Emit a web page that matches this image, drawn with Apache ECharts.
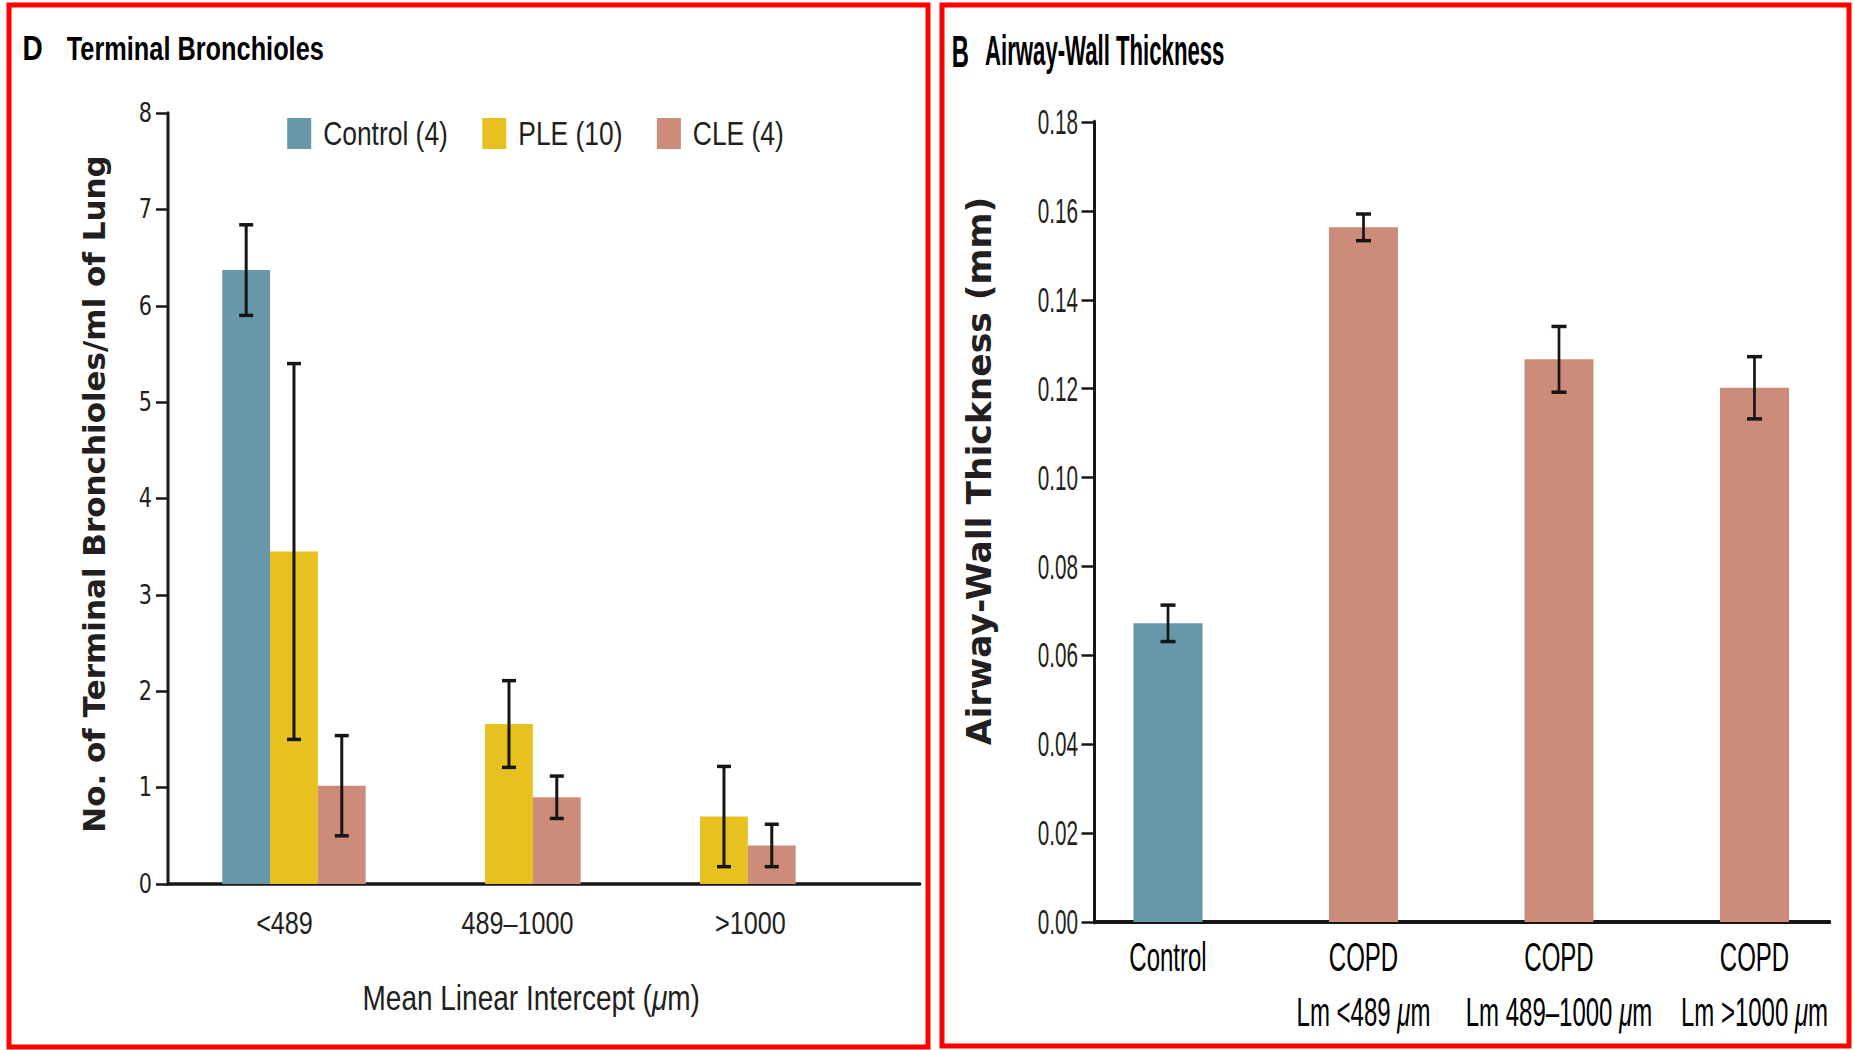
<!DOCTYPE html>
<html>
<head>
<meta charset="utf-8">
<title>Terminal Bronchioles and Airway-Wall Thickness</title>
<script src="https://cdn.jsdelivr.net/npm/echarts@6/dist/echarts.min.js"></script>
<style>
  html, body { margin: 0; padding: 0; background: #fff; overflow: hidden; }
  #frame  { position: absolute; left: 0; top: 0; width: 1854px; height: 1050px; }
  /* the two panels are laid out wide and squeezed horizontally, giving their condensed lettering */
  #panelD { position: absolute; left: 0; top: 0; width: 1169px; height: 1050px;
            transform: scaleX(0.8); transform-origin: 0 0; }
  #panelB { position: absolute; left: 940px; top: 0; width: 1524px; height: 1050px;
            transform: scaleX(0.6); transform-origin: 0 0; }
</style>
</head>
<body>
<div id="frame"></div>
<div id="panelD"></div>
<div id="panelB"></div>
<script>
// ---- Panel D: terminal bronchioles per ml of lung, by mean linear intercept ----
const lmCategories = ['<489', '489\u20131000', '>1000'];
const seriesNames = ['Control (4)', 'PLE (10)', 'CLE (4)'];
const controlMean = [6.37, null, null];
const controlErr  = [0.47, null, null];
const pleMean = [3.45, 1.66, 0.70];
const pleErr  = [1.95, 0.45, 0.52];
const cleMean = [1.02, 0.90, 0.40];
const cleErr  = [0.52, 0.22, 0.22];
const tbAxis = { min: 0, max: 8, interval: 1 };

// ---- Panel B: airway-wall thickness ----
const awtGroups = ['Control', 'COPD\nLm <489 \u03bcm', 'COPD\nLm 489\u20131000 \u03bcm', 'COPD\nLm >1000 \u03bcm'];
const awtMean = [0.0672, 0.1563, 0.1266, 0.1202];
const awtErr  = [0.0041, 0.0030, 0.0074, 0.0070];
const awtAxis = { min: 0, max: 0.18, interval: 0.02 };

const INK = '#161616';
const TEXT = '#231f20';
const BLUE = '#6897a9';
const GOLD = '#e6c11f';
const SALMON = '#cd8c79';
const SANS = "'Liberation Sans', Arial, sans-serif";
const WIDE = "'DejaVu Sans', sans-serif";

function errorData(mean, err) {
  const out = [];
  mean.forEach((m, i) => {
    if (m !== null && m !== undefined) out.push([i, m - err[i], m + err[i]]);
  });
  return out;
}

// whisker with caps, shifted sideways to sit on its bar within a group
function whisker(offsetPx, capW, lw, capLw) {
  return function (params, api) {
    const cat = api.value(0);
    const lo = api.coord([cat, api.value(1)]);
    const hi = api.coord([cat, api.value(2)]);
    const x = lo[0] + offsetPx;
    const st = { stroke: INK, lineWidth: lw };
    const cap = { stroke: INK, lineWidth: capLw };
    return {
      type: 'group',
      children: [
        { type: 'line', shape: { x1: x, y1: lo[1], x2: x, y2: hi[1] }, style: st },
        { type: 'line', shape: { x1: x - capW / 2, y1: hi[1], x2: x + capW / 2, y2: hi[1] }, style: cap },
        { type: 'line', shape: { x1: x - capW / 2, y1: lo[1], x2: x + capW / 2, y2: lo[1] }, style: cap }
      ]
    };
  };
}

// ================= frame: panel borders and rotated value-axis titles =================
const frame = echarts.init(document.getElementById('frame'), null, { renderer: 'svg' });
frame.setOption({
  animation: false,
  graphic: [
    { type: 'rect', shape: { x: 9, y: 5, width: 919, height: 1042 },
      style: { fill: 'none', stroke: '#ff0000', lineWidth: 5 } },
    { type: 'rect', shape: { x: 942, y: 5, width: 907, height: 1041 },
      style: { fill: 'none', stroke: '#ff0000', lineWidth: 5 } },
    { type: 'text', x: 94, y: 494, rotation: Math.PI / 2,
      style: { text: 'No. of Terminal Bronchioles/ml of Lung', fontFamily: WIDE, fontWeight: 'bold',
               fontSize: 31, fill: TEXT, align: 'center', verticalAlign: 'middle' } },
    { type: 'text', x: 979, y: 471, rotation: Math.PI / 2,
      style: { text: 'Airway-Wall Thickness (mm)', fontFamily: WIDE, fontWeight: 'bold',
               fontSize: 34.5, fill: TEXT, align: 'center', verticalAlign: 'middle' } }
  ]
});

// ================= Panel D (drawn at 1/0.8 horizontal scale) =================
const chartD = echarts.init(document.getElementById('panelD'), null, { renderer: 'svg' });
const barW = 59.75;
const meansD = [controlMean, pleMean, cleMean];
const errsD = [controlErr, pleErr, cleErr];
const colorsD = [BLUE, GOLD, SALMON];

const seriesD = [];
meansD.forEach((m, i) => {
  seriesD.push({
    name: seriesNames[i], type: 'bar', xAxisIndex: 2, yAxisIndex: 2,
    data: m.map(v => (v === null ? '-' : v)),
    barWidth: barW, barGap: '0%',
    itemStyle: { color: colorsD[i] }
  });
});
meansD.forEach((m, i) => {
  seriesD.push({
    type: 'custom', xAxisIndex: 2, yAxisIndex: 2, z: 5,
    renderItem: whisker((i - 1) * barW, 17.5, 3.75, 3.5),
    encode: { x: 0, y: [1, 2] },
    data: errorData(m, errsD[i])
  });
});

chartD.setOption({
  animation: false,
  legend: {
    data: seriesNames, left: 359, top: 117, padding: 0, icon: 'rect',
    itemWidth: 30, itemHeight: 31, itemGap: 43, selectedMode: false,
    textStyle: { fontFamily: SANS, fontSize: 33, color: TEXT, padding: [0, 0, 0, 10] }
  },
  grid: [
    { left: 210, top: 113, width: 940, height: 771 },
    { left: 210, top: 113, width: 873.75, height: 771 },
    { left: 233.1, top: 113, width: 806.25, height: 771 }
  ],
  xAxis: [
    { gridIndex: 0, type: 'category', data: lmCategories,
      axisLine: { lineStyle: { color: INK, width: 3.5 } },
      axisTick: { show: false }, axisLabel: { show: false } },
    { gridIndex: 1, type: 'category', data: lmCategories,
      axisLine: { show: false }, axisTick: { show: false },
      axisLabel: { fontFamily: SANS, fontSize: 31.5, color: TEXT, margin: 23, interval: 0 } },
    { gridIndex: 2, type: 'category', data: lmCategories, show: false }
  ],
  yAxis: [
    { gridIndex: 0, type: 'value', min: tbAxis.min, max: tbAxis.max, interval: tbAxis.interval,
      axisLine: { show: true, lineStyle: { color: INK, width: 3.75 } },
      axisTick: { show: true, length: 15, lineStyle: { color: INK, width: 2.5 } },
      axisLabel: { fontFamily: WIDE, fontSize: 26, color: TEXT, margin: 20 },
      splitLine: { show: false } },
    { gridIndex: 1, type: 'value', min: tbAxis.min, max: tbAxis.max, show: false },
    { gridIndex: 2, type: 'value', min: tbAxis.min, max: tbAxis.max, show: false }
  ],
  series: seriesD,
  graphic: [
    { type: 'text', x: 28, y: 48,
      style: { text: 'D', fontFamily: SANS, fontWeight: 'bold', fontSize: 35,
               fill: '#000', verticalAlign: 'middle' } },
    { type: 'text', x: 83.4, y: 48, scaleX: 0.96,
      style: { text: 'Terminal Bronchioles', fontFamily: SANS, fontWeight: 'bold', fontSize: 33,
               fill: '#000', verticalAlign: 'middle' } },
    { type: 'text', x: 664, y: 998,
      style: { text: 'Mean Linear Intercept ({it|\u03bc}m)', fontFamily: SANS, fontSize: 35,
               fill: TEXT, align: 'center', verticalAlign: 'middle',
               rich: { it: { fontFamily: SANS, fontSize: 35, fontStyle: 'italic', fill: TEXT } } } }
  ]
});

// ================= Panel B (drawn at 1/0.6 horizontal scale) =================
const chartB = echarts.init(document.getElementById('panelB'), null, { renderer: 'svg' });
const barWB = 115;

chartB.setOption({
  animation: false,
  grid: [
    { left: 257.5, top: 122, width: 1225.8, height: 800 },
    { left: 217.1, top: 122, width: 1303.3, height: 800 }
  ],
  xAxis: [
    { gridIndex: 0, type: 'category', data: awtGroups,
      axisLine: { lineStyle: { color: INK, width: 4 } },
      axisTick: { show: false }, axisLabel: { show: false } },
    { gridIndex: 1, type: 'category', data: awtGroups,
      axisLine: { show: false }, axisTick: { show: false },
      axisLabel: {
        interval: 0, fontFamily: SANS, fontSize: 40, color: '#000', lineHeight: 55, margin: 8,
        formatter: v => v.replace('\u03bcm', '{it|\u03bc}m'),
        rich: { it: { fontFamily: SANS, fontSize: 40, fontStyle: 'italic', color: '#000', lineHeight: 55 } }
      } }
  ],
  yAxis: [
    { gridIndex: 0, type: 'value', min: awtAxis.min, max: awtAxis.max, interval: awtAxis.interval,
      axisLine: { show: true, lineStyle: { color: INK, width: 5 } },
      axisTick: { show: true, length: 21.7, lineStyle: { color: INK, width: 2.5 } },
      axisLabel: { fontFamily: SANS, fontSize: 34.5, color: TEXT, margin: 27.5,
                   formatter: v => v.toFixed(2) },
      splitLine: { show: false } },
    { gridIndex: 1, type: 'value', min: awtAxis.min, max: awtAxis.max, show: false }
  ],
  series: [
    { type: 'bar', xAxisIndex: 1, yAxisIndex: 1, data: awtMean, barWidth: barWB,
      itemStyle: { color: p => (p.dataIndex === 0 ? BLUE : SALMON) } },
    { type: 'custom', xAxisIndex: 1, yAxisIndex: 1, z: 5,
      renderItem: whisker(0, 25, 4.5, 3.5),
      encode: { x: 0, y: [1, 2] },
      data: errorData(awtMean, awtErr) }
  ],
  graphic: [
    { type: 'text', x: 19.5, y: 51, scaleX: 0.9,
      style: { text: 'B', fontFamily: SANS, fontWeight: 'bold', fontSize: 44,
               fill: '#000', verticalAlign: 'middle' } },
    { type: 'text', x: 75, y: 51, scaleX: 0.88,
      style: { text: 'Airway-Wall Thickness', fontFamily: SANS, fontWeight: 'bold', fontSize: 42,
               fill: '#000', verticalAlign: 'middle' } }
  ]
});
</script>
</body>
</html>
